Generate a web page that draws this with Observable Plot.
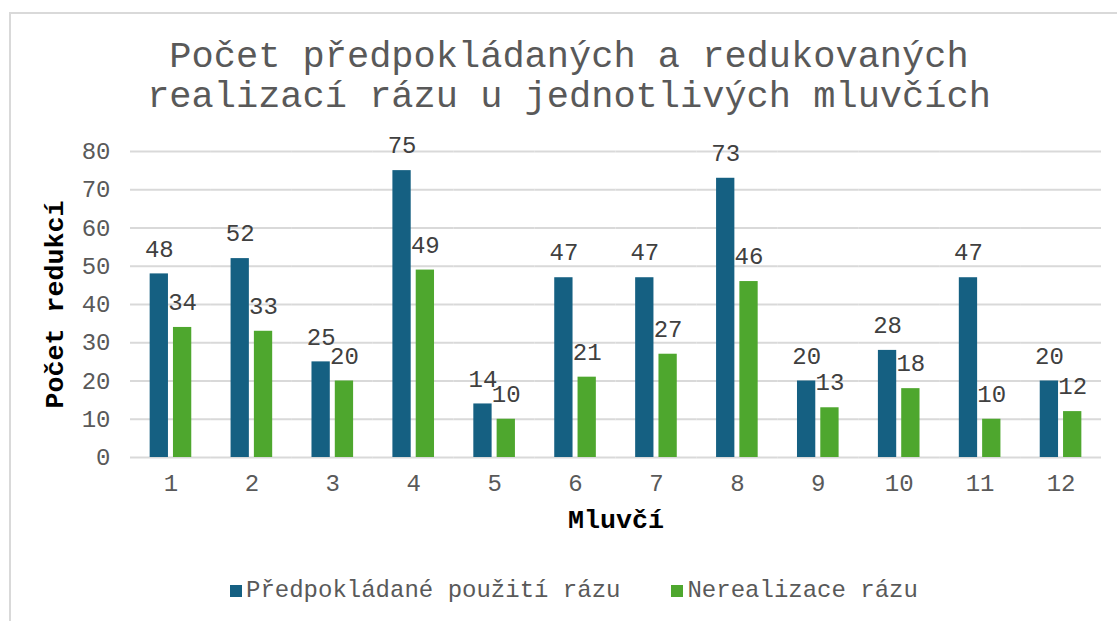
<!DOCTYPE html>
<html>
<head>
<meta charset="utf-8">
<script src="https://cdn.jsdelivr.net/npm/d3@7"></script>
<script src="https://cdn.jsdelivr.net/npm/@observablehq/plot@0.6"></script>
<style>
html, body { margin: 0; padding: 0; background: #fff; overflow: hidden; width: 1117px; height: 621px; }
body { font-family: "Liberation Mono", "DejaVu Sans Mono", monospace; position: relative; }
#frame { position: absolute; left: 9px; top: 12px; width: 1200px; height: 700px; border-top: 2px solid #d9d9d9; border-left: 2px solid #d9d9d9; box-sizing: border-box; }
#title { position: absolute; left: 9px; width: 1120px; top: 37px; text-align: center; font-size: 37px; line-height: 40px; color: #595959; white-space: nowrap; }
#chart { position: absolute; left: 0; top: 130px; }
#legend { position: absolute; left: 230px; top: 577px; display: flex; align-items: center; font-size: 24px; line-height: 28px; color: #595959; white-space: nowrap; }
#legend .item { display: flex; align-items: center; }
#legend .sw { width: 12px; height: 12px; margin-right: 4px; }
#legend .item + .item { margin-left: 51px; }
</style>
</head>
<body>
<div id="frame"></div>
<div id="title">Počet předpokládaných a redukovaných<br>realizací rázu u jednotlivých mluvčích</div>
<div id="chart"></div>
<div id="legend"></div>
<script>
// ---- data ----
const speakers = ["1", "2", "3", "4", "5", "6", "7", "8", "9", "10", "11", "12"];
const expectedUse = [48, 52, 25, 75, 14, 47, 47, 73, 20, 28, 47, 20];
const unrealized = [34, 33, 20, 49, 10, 21, 27, 46, 13, 18, 10, 12];
const seriesNames = ["Předpokládané použití rázu", "Nerealizace rázu"];
const seriesColors = ["#156082", "#4EA72E"];
const yTicks = [0, 10, 20, 30, 40, 50, 60, 70, 80];
const xLabel = "Mluvčí";
const yLabel = "Počet redukcí";

const rows = speakers.flatMap((s, i) => [
  {speaker: s, series: seriesNames[0], value: expectedUse[i]},
  {speaker: s, series: seriesNames[1], value: unrealized[i]}
]);

const chart = Plot.plot({
  width: 1117,
  height: 409,
  marginLeft: 130,
  marginRight: 16,
  marginTop: 21,
  marginBottom: 82,
  style: {fontFamily: "Liberation Mono, monospace", fontSize: "24px", background: "transparent", color: "#595959"},
  fx: {domain: speakers, padding: 0, round: false},
  x: {domain: seriesNames, axis: null, paddingInner: 0.215, paddingOuter: 0.843, round: false},
  y: {domain: [0, 80]},
  color: {domain: seriesNames, range: seriesColors},
  marks: [
    Plot.gridY(yTicks, {stroke: "#d9d9d9", strokeOpacity: 1, strokeWidth: 2}),
    Plot.axisY(yTicks, {tickSize: 0, tickPadding: 20, fill: "#595959", label: null}),
    Plot.axisY([], {tickSize: 0, label: yLabel, labelAnchor: "center", labelArrow: "none", labelOffset: 86, fontWeight: "bold", fontSize: 26.7, fill: "#000"}),
    Plot.axisFx({anchor: "bottom", tickSize: 0, tickPadding: 16, fill: "#595959", label: null}),
    Plot.axisFx([], {anchor: "bottom", tickSize: 0, label: xLabel, labelAnchor: "center", labelArrow: "none", labelOffset: 70, fontWeight: "bold", fontSize: 26.7, fill: "#000"}),
    Plot.barY(rows, {fx: "speaker", x: "series", y: "value", fill: "series"}),
    Plot.text(rows, {fx: "speaker", x: "series", y: "value", text: d => String(d.value), dy: -25, lineAnchor: "middle", fill: "#404040", fontSize: 24})
  ]
});
document.getElementById("chart").appendChild(chart);

const legend = document.getElementById("legend");
seriesNames.forEach((name, i) => {
  const item = document.createElement("div");
  item.className = "item";
  const sw = document.createElement("div");
  sw.className = "sw";
  sw.style.background = seriesColors[i];
  const label = document.createElement("span");
  label.textContent = name;
  item.appendChild(sw);
  item.appendChild(label);
  legend.appendChild(item);
});
</script>
</body>
</html>
